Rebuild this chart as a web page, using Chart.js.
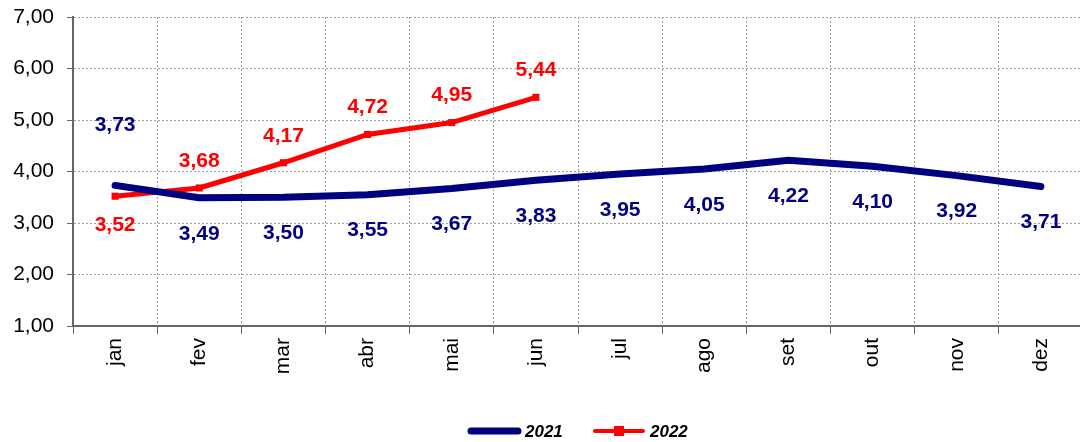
<!DOCTYPE html>
<html>
<head>
<meta charset="utf-8">
<script src="https://cdn.jsdelivr.net/npm/chart.js@4"></script>
<style>
  body { margin: 0; overflow: hidden; background: #fff; }
  canvas { display: block; }
</style>
</head>
<body>
<canvas id="myChart" width="1088" height="442"></canvas>
<script>
// Months
let months = ['jan', 'fev', 'mar', 'abr', 'mai', 'jun', 'jul', 'ago', 'set', 'out', 'nov', 'dez'];

// Series values
let values2021 = [3.73, 3.49, 3.50, 3.55, 3.67, 3.83, 3.95, 4.05, 4.22, 4.10, 3.92, 3.71];
let values2022 = [3.52, 3.68, 4.17, 4.72, 4.95, 5.44, null, null, null, null, null, null];

// Y axis ticks
let yMin = 1;
let yMax = 7;
let yStep = 1;

let navy = '#000080';
let red = '#ff0000';
let fontFam = '"Liberation Sans", Arial, sans-serif';
let fmt = (v) => v.toFixed(2).replace('.', ',');

// value labels, offset from the point (negative = above)
let labelOffsets = [
  [-60, 36, 36, 36, 36, 36, 36, 36, 36, 36, 36, 36],
  [29, -27, -27, -27, -27, -27]
];

let valueLabels = {
  id: 'valueLabels',
  afterDatasetsDraw(chart) {
    let ctx = chart.ctx;
    ctx.save();
    ctx.font = 'bold 21px ' + fontFam;
    ctx.textAlign = 'center';
    ctx.textBaseline = 'middle';
    chart.data.datasets.forEach((ds, di) => {
      let meta = chart.getDatasetMeta(di);
      ctx.fillStyle = ds.borderColor;
      meta.data.forEach((pt, i) => {
        let v = ds.data[i];
        if (v == null) return;
        ctx.fillText(fmt(v), pt.x, pt.y + labelOffsets[di][i]);
      });
    });
    ctx.restore();
  }
};

// legend drawn by hand to get the line samples right
let customLegend = {
  id: 'customLegend',
  afterDraw(chart) {
    let ctx = chart.ctx;
    let y = 431;
    ctx.save();
    ctx.lineCap = 'round';
    ctx.strokeStyle = navy;
    ctx.lineWidth = 7;
    ctx.beginPath();
    ctx.moveTo(471, y);
    ctx.lineTo(518, y);
    ctx.stroke();
    ctx.strokeStyle = red;
    ctx.lineWidth = 4;
    ctx.beginPath();
    ctx.moveTo(595, y);
    ctx.lineTo(643, y);
    ctx.stroke();
    ctx.fillStyle = red;
    ctx.fillRect(614, y - 5, 10, 10);
    ctx.fillStyle = '#000';
    ctx.font = 'italic bold 17px ' + fontFam;
    ctx.textBaseline = 'middle';
    ctx.fillText('2021', 525, y + 1);
    ctx.fillText('2022', 650, y + 1);
    ctx.restore();
  }
};

var ctx = document.getElementById('myChart').getContext('2d');
var myChart = new Chart(ctx, {
  type: 'line',
  data: {
    labels: months,
    datasets: [
      {
        label: '2021',
        data: values2021,
        borderColor: navy,
        backgroundColor: navy,
        borderWidth: 7,
        borderCapStyle: 'round',
        borderJoinStyle: 'round',
        pointRadius: 0,
        tension: 0
      },
      {
        label: '2022',
        data: values2022,
        borderColor: red,
        backgroundColor: red,
        borderWidth: 5,
        pointStyle: 'rect',
        pointRadius: 5,
        pointBorderWidth: 0,
        tension: 0
      }
    ]
  },
  options: {
    responsive: false,
    animation: false,
    layout: { padding: { top: 17, right: 1, left: 0, bottom: 0 } },
    plugins: {
      legend: { display: false },
      tooltip: { enabled: false }
    },
    scales: {
      x: {
        offset: true,
        grid: {
          offset: true,
          color: '#a0a0a0',
          tickColor: '#666',
          tickLength: 8
        },
        border: { color: '#666', width: 2, dash: [2, 2] },
        ticks: {
          minRotation: 90,
          maxRotation: 90,
          padding: 4,
          color: '#000',
          font: { family: fontFam, size: 21 }
        },
        afterFit: (scale) => { scale.height = 116; }
      },
      y: {
        min: yMin,
        max: yMax,
        grid: {
          color: '#a0a0a0',
          tickColor: '#666',
          tickLength: 6
        },
        border: { color: '#666', width: 2, dash: [2, 2] },
        ticks: {
          stepSize: yStep,
          padding: 13,
          color: '#000',
          font: { family: fontFam, size: 21 },
          callback: (v) => fmt(v)
        },
        afterFit: (scale) => {
          scale.width = 73;
          scale.paddingTop = 0;
          scale.paddingBottom = 0;
        }
      }
    }
  },
  plugins: [valueLabels, customLegend]
});
</script>
</body>
</html>
